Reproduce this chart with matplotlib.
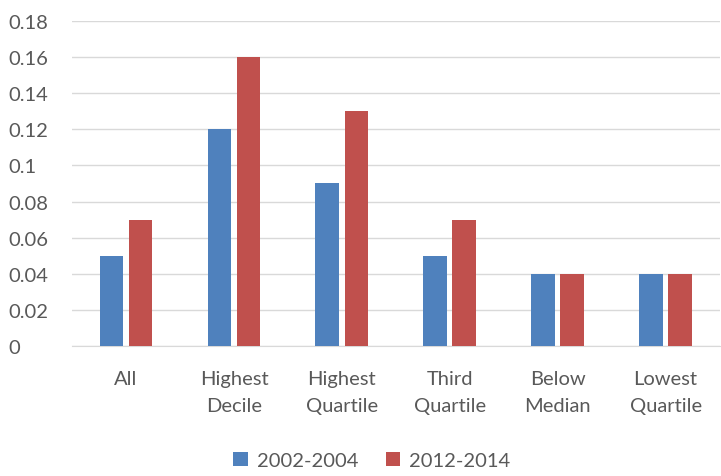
import numpy as np
import matplotlib
matplotlib.use("Agg")
import matplotlib.pyplot as plt

categories = ["All", "Highest\nDecile", "Highest\nQuartile", "Third\nQuartile", "Below\nMedian", "Lowest\nQuartile"]
vals_2002 = [0.05, 0.12, 0.09, 0.05, 0.04, 0.04]
vals_2012 = [0.07, 0.16, 0.13, 0.07, 0.04, 0.04]
yticks = [0, 0.02, 0.04, 0.06, 0.08, 0.1, 0.12, 0.14, 0.16, 0.18]
ytick_labels = ["0", "0.02", "0.04", "0.06", "0.08", "0.1", "0.12", "0.14", "0.16", "0.18"]

plt.rcParams['font.family'] = ['Lato', 'DejaVu Sans']
txt = "#595959"

fig = plt.figure(figsize=(7.21, 4.77), dpi=100)
ax = fig.add_axes([0.1, 0.2725, 0.898, 0.6815])

x = np.arange(len(categories))
w = 0.22
gap = 0.05
ax.bar(x - w / 2 - gap / 2, vals_2002, width=w, color="#4F81BD", label="2002-2004", zorder=3)
ax.bar(x + w / 2 + gap / 2, vals_2012, width=w, color="#C0504D", label="2012-2014", zorder=3)

ax.set_ylim(0, 0.18)
ax.set_xlim(-0.5, len(categories) - 0.5)
ax.set_yticks(yticks)
ax.set_yticklabels(ytick_labels, fontsize=14.5, color=txt)
ax.set_xticks(x)
ax.set_xticklabels(categories, fontsize=14.5, color=txt, linespacing=1.75)
ax.tick_params(axis="x", length=0, pad=17)
ax.tick_params(axis="y", length=0, pad=46)
for lbl in ax.get_yticklabels():
    lbl.set_horizontalalignment("left")
ax.grid(axis="y", color="#D9D9D9", linewidth=1, zorder=0)
for s in ["top", "right", "left"]:
    ax.spines[s].set_visible(False)
ax.spines["bottom"].set_color("#D9D9D9")

fig.legend(loc="center", bbox_to_anchor=(0.516, 0.032), ncol=2, frameon=False,
           fontsize=14.5, handlelength=0.7, handleheight=0.7, columnspacing=1.4,
           handletextpad=0.45, labelcolor=txt)

fig.savefig("out.png", dpi=100)
